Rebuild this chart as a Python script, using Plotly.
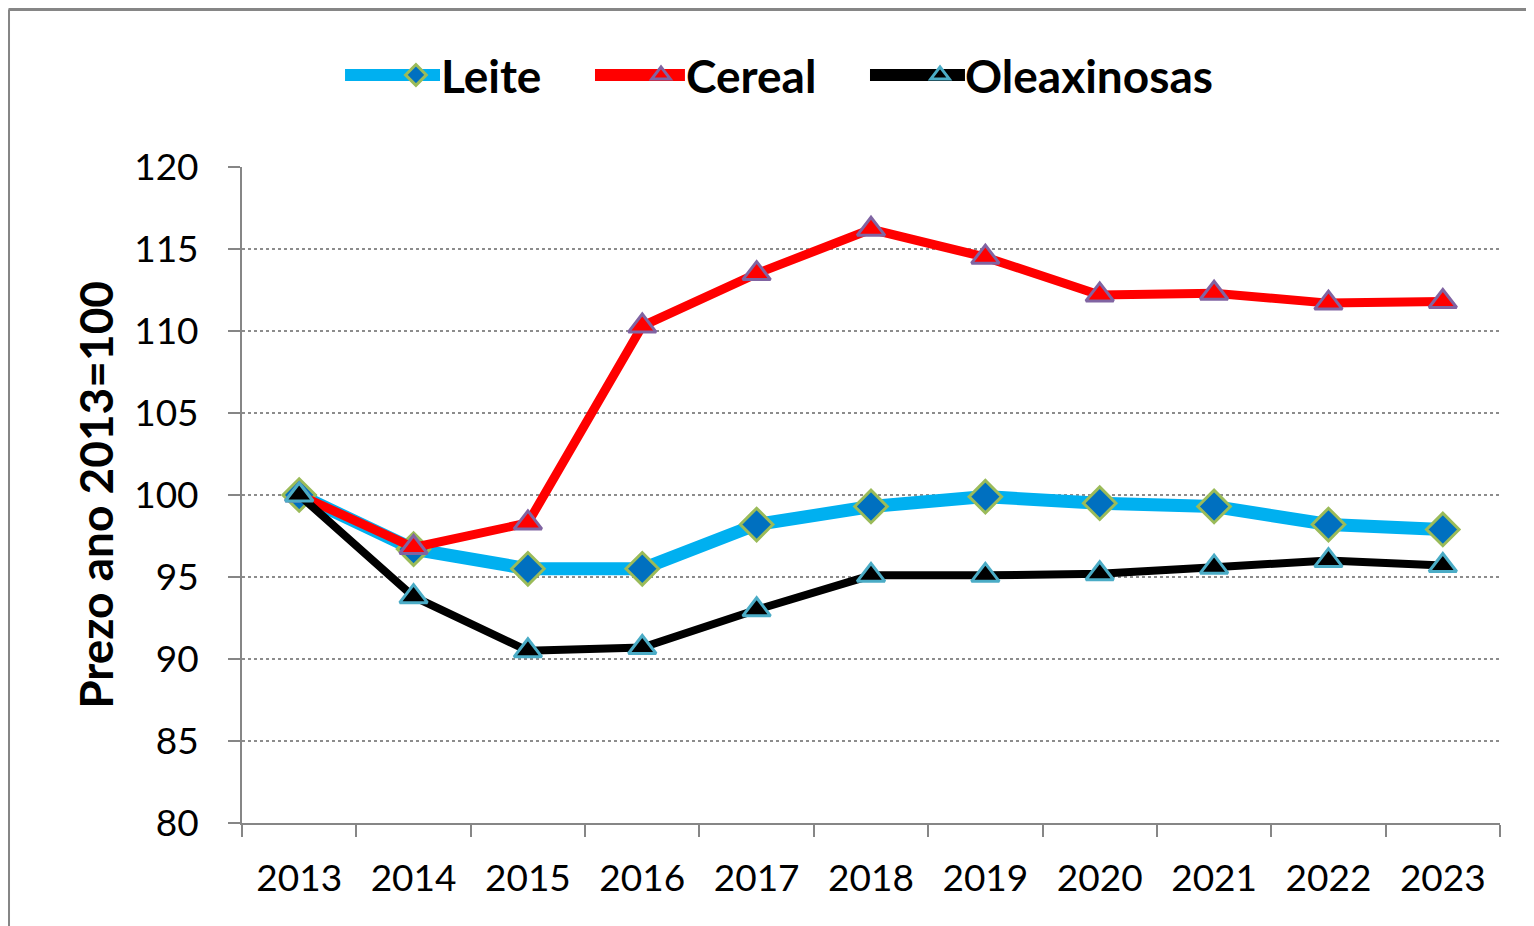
import plotly.graph_objects as go

years = ["2013", "2014", "2015", "2016", "2017", "2018", "2019", "2020", "2021", "2022", "2023"]
leite = [100.0, 96.7, 95.5, 95.5, 98.2, 99.3, 99.9, 99.5, 99.3, 98.2, 97.9]
cereal = [100.0, 96.8, 98.3, 110.3, 113.5, 116.2, 114.5, 112.2, 112.3, 111.7, 111.8]
oleaxinosas = [100.0, 93.8, 90.5, 90.7, 93.0, 95.1, 95.1, 95.2, 95.6, 96.0, 95.7]
y_ticks = [80, 85, 90, 95, 100, 105, 110, 115, 120]

FONT = "Lato, 'Open Sans', sans-serif"
C_LEITE, C_CEREAL, C_OLEA = "#00B0F0", "#FF0000", "#000000"

fig = go.Figure()
fig.add_trace(go.Scatter(
    x=years, y=leite, name="Leite", mode="lines+markers", legend="legend",
    line=dict(color=C_LEITE, width=13),
    marker=dict(symbol="diamond", size=25, color="#0070C0",
                line=dict(color="#9BBB59", width=3)),
))
fig.add_trace(go.Scatter(
    x=years, y=cereal, name="Cereal", mode="lines+markers", legend="legend2",
    line=dict(color=C_CEREAL, width=9),
    marker=dict(symbol="triangle-up", size=24, color=C_CEREAL,
                line=dict(color="#8064A2", width=3)),
))
fig.add_trace(go.Scatter(
    x=years, y=oleaxinosas, name="Oleaxinosas", mode="lines+markers", legend="legend3",
    line=dict(color=C_OLEA, width=8),
    marker=dict(symbol="triangle-up", size=24, color=C_OLEA,
                line=dict(color="#4BACC6", width=3)),
))

LEG_Y = 1.1402
leg_common = dict(orientation="h", xanchor="left", y=LEG_Y, yanchor="middle",
                  font=dict(family=FONT, size=46, color="black", weight="bold"),
                  itemwidth=40, bgcolor="rgba(0,0,0,0)")

legend_line_ext = [(0.0819, 0.1574, C_LEITE), (0.2806, 0.3521, C_CEREAL), (0.4992, 0.5747, C_OLEA)]
shapes = [dict(type="line", xref="paper", yref="paper", x0=a, x1=b, y0=LEG_Y, y1=LEG_Y,
               line=dict(color=c, width=12), layer="above") for a, b, c in legend_line_ext]
shapes += [
    dict(type="line", xref="paper", yref="paper",
         x0=-0.1856, x1=-0.1856, y0=-0.25, y1=1.2401,
         line=dict(color="#868686", width=3), layer="below"),
    dict(type="line", xref="paper", yref="paper",
         x0=-0.1856, x1=1.1, y0=1.2401, y1=1.2401,
         line=dict(color="#868686", width=3), layer="below"),
]

fig.update_layout(
    width=1526, height=918,
    margin=dict(l=234, r=34, t=159, b=103),
    paper_bgcolor="white", plot_bgcolor="white",
    font=dict(family=FONT, size=37, color="black"),
    showlegend=True,
    legend=dict(x=0.1184, **leg_common),
    legend2=dict(x=0.3132, **leg_common),
    legend3=dict(x=0.5350, **leg_common),
    xaxis=dict(type="category", range=[-0.5, 10.5], showgrid=False,
               showline=True, linecolor="#868686", linewidth=2,
               ticks="outside", tickson="boundaries", ticklen=12, tickwidth=2, tickcolor="#868686",
               ticklabelstandoff=22,
               tickfont=dict(family=FONT, size=37, color="black"), zeroline=False),
    yaxis=dict(range=[80, 120], tickvals=y_ticks, showgrid=True,
               gridcolor="#8C8C8C", griddash="dot", gridwidth=2,
               showline=True, linecolor="#868686", linewidth=2,
               ticks="outside", ticklen=12, tickwidth=2, tickcolor="#868686",
               ticklabelstandoff=22,
               tickfont=dict(family=FONT, size=37, color="black"), zeroline=False),
    annotations=[dict(text="<b>Prezo ano 2013=100</b>", textangle=-90,
                      xref="paper", yref="paper", x=-0.117, y=0.5,
                      xanchor="center", yanchor="middle", showarrow=False,
                      font=dict(family=FONT, size=46, color="black"))],
    shapes=shapes,
)

fig.write_html("out.html")
